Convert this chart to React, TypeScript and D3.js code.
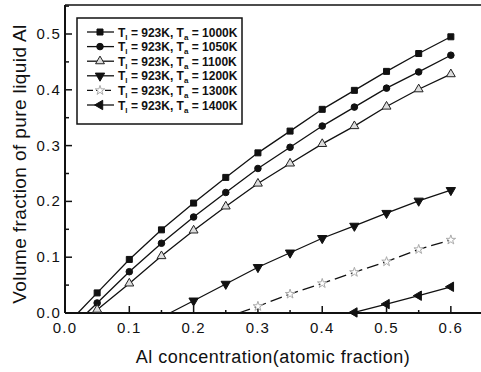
import React from "react";
import * as d3 from "d3";

const xs = [0.05, 0.1, 0.15, 0.2, 0.25, 0.3, 0.35, 0.4, 0.45, 0.5, 0.55, 0.6];
const labels = ["1000K", "1050K", "1100K", "1200K", "1300K", "1400K"];
const intercepts = [0.02, 0.034, 0.044, 0.163, 0.27, 0.447];
const s1000 = [0.036, 0.096, 0.149, 0.197, 0.243, 0.287, 0.326, 0.365, 0.399, 0.433, 0.465, 0.495];
const s1050 = [0.018, 0.074, 0.125, 0.172, 0.216, 0.259, 0.297, 0.335, 0.369, 0.403, 0.432, 0.462];
const s1100 = [0.006, 0.053, 0.102, 0.148, 0.191, 0.232, 0.268, 0.303, 0.335, 0.370, 0.401, 0.428];
const s1200 = [null, null, null, 0.022, 0.052, 0.082, 0.108, 0.134, 0.156, 0.179, 0.201, 0.220];
const s1300 = [null, null, null, null, null, 0.012, 0.034, 0.053, 0.073, 0.092, 0.114, 0.131];
const s1400 = [null, null, null, null, null, null, null, null, 0.001, 0.016, 0.031, 0.047];
const series = [s1000, s1050, s1100, s1200, s1300, s1400];
const xTicks = [0, 0.1, 0.2, 0.3, 0.4, 0.5, 0.6];
const yTicks = [0, 0.1, 0.2, 0.3, 0.4, 0.5];

const W = 481, H = 372;
const x = d3.scaleLinear().domain([0, 0.65]).range([65, 483]);
const y = d3.scaleLinear().domain([0, 0.5]).range([313, 34]);

function Marker({ i, cx, cy }: { i: number; cx: number; cy: number }) {
  const types = [d3.symbolSquare, d3.symbolCircle, d3.symbolTriangle, d3.symbolTriangle, d3.symbolStar, d3.symbolTriangle];
  const sizes = [36, 34, 34, 38, 28, 38];
  const rot = [0, 0, 0, 180, 0, -90];
  const fill = ["#111", "#111", "#ddd", "#111", "#fff", "#111"];
  const stroke = ["#111", "#111", "#222", "#111", "#aaa", "#111"];
  const p = d3.symbol().type(types[i]).size(sizes[i])()!;
  return (
    <path d={p} transform={`translate(${cx},${cy}) rotate(${rot[i]})`} fill={fill[i]} stroke={stroke[i]} strokeWidth={1} />
  );
}

export default function App() {
  const line = d3.line<[number, number]>().x((d) => x(d[0])).y((d) => y(d[1]));
  const minor = d3.range(0, 0.651, 0.05);
  const yMinor = d3.range(0, 0.551, 0.05);
  const font = "Arial, 'Liberation Sans', Helvetica, sans-serif";
  const legX = 77, legY = 18, rowH = 14.6;
  return (
    <svg width={W} height={H} style={{ position: "absolute", left: 0, top: 0, background: "#fff" }} fontFamily={font}>
      <rect width={W} height={H} fill="#fff" />
      <line x1={65} y1={5} x2={W} y2={5} stroke="#111" strokeWidth={1.5} />
      <line x1={65} y1={5} x2={65} y2={313} stroke="#111" strokeWidth={2} />
      <line x1={65} y1={313} x2={W} y2={313} stroke="#111" strokeWidth={2} />
      {minor.map((t, i) => (
        <line key={"xm" + i} x1={x(t)} x2={x(t)} y1={313} y2={i % 2 === 0 ? 306 : 310} stroke="#111" strokeWidth={1.5} />
      ))}
      {yMinor.map((t, i) => (
        <line key={"ym" + i} x1={65} x2={i % 2 === 0 ? 72 : 69} y1={y(t)} y2={y(t)} stroke="#111" strokeWidth={1.5} />
      ))}
      {xTicks.map((t) => (
        <text key={"xl" + t} x={x(t)} y={333} textAnchor="middle" fontSize={15} letterSpacing={1.2} fill="#111">
          {t.toFixed(1)}
        </text>
      ))}
      {yTicks.map((t) => (
        <text key={"yl" + t} x={61} y={y(t) + 5} textAnchor="end" fontSize={15} letterSpacing={1.2} fill="#111">
          {t.toFixed(1)}
        </text>
      ))}
      <text x={273} y={363} textAnchor="middle" fontSize={18} letterSpacing={0.5} fill="#111">
        Al concentration(atomic fraction)
      </text>
      <text transform={`translate(26,164) rotate(-90)`} textAnchor="middle" fontSize={19} letterSpacing={0.4} fill="#111">
        Volume fraction of pure liquid Al
      </text>
      {series.map((s, i) => {
        const pts: [number, number][] = [[intercepts[i], 0]];
        xs.forEach((xv, j) => {
          if (s[j] !== null) pts.push([xv, s[j] as number]);
        });
        return (
          <g key={"s" + i}>
            <path d={line(pts)!} fill="none" stroke="#111" strokeWidth={1.3} strokeDasharray={i === 4 ? "12,5" : undefined} />
            {pts.slice(1).map((p, k) => (
              <Marker key={k} i={i} cx={x(p[0])} cy={y(p[1])} />
            ))}
          </g>
        );
      })}
      <rect x={legX} y={legY} width={165} height={106} fill="#fff" stroke="#111" strokeWidth={1.5} />
      {labels.map((lab, i) => {
        const cy = legY + 14 + i * rowH;
        return (
          <g key={"lg" + i}>
            <line x1={87} x2={114} y1={cy} y2={cy} stroke="#111" strokeWidth={1.3} strokeDasharray={i === 4 ? "6,3" : undefined} />
            <Marker i={i} cx={100} cy={cy} />
            <text x={118} y={cy + 4.5} fontSize={12} fontWeight="bold" fill="#111">
              T<tspan fontSize={8} dy={3}>{"l"}</tspan>
              <tspan dy={-3}>{" = 923K, T"}</tspan>
              <tspan fontSize={8} dy={3}>{"a"}</tspan>
              <tspan dy={-3}>{" = " + lab}</tspan>
            </text>
          </g>
        );
      })}
    </svg>
  );
}
